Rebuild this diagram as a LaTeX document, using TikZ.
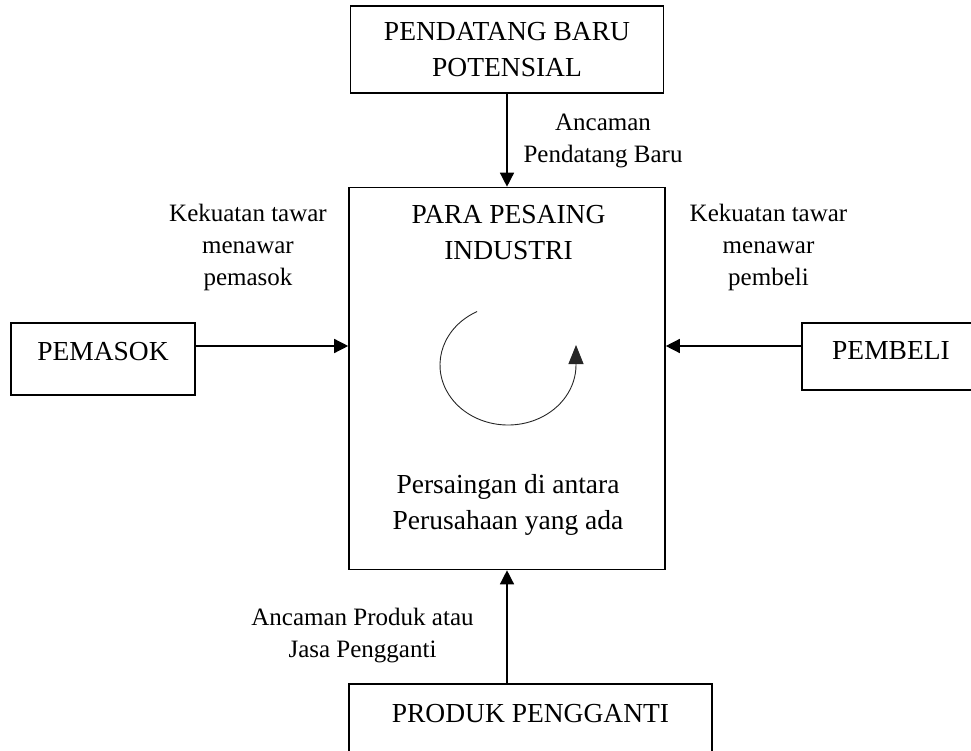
\documentclass[tikz,border=0pt]{standalone}
\usepackage{fontspec}
\setmainfont{Liberation Serif}
\usetikzlibrary{arrows.meta}

\begin{document}
\begin{tikzpicture}[x=1pt,y=-1pt]
% Styles
\tikzset{
    force/.style={draw, line width=1.6pt, inner sep=0pt, font=\fontsize{27.5}{36}\selectfont},
    title/.style={align=center, inner sep=0pt, font=\fontsize{27.5}{36}\selectfont},
    caption/.style={align=center, inner sep=0pt, font=\fontsize{25}{32}\selectfont},
    push/.style={line width=1.4pt, -{Triangle[length=14pt,width=14pt]}},
    cycle arrow/.style={line width=0.9pt, black!85, -{Triangle[length=19pt,width=15pt]}}
}
\useasboundingbox (0,0) rectangle (971,751);
\clip (0,0) rectangle (971,751);

% Nodes
\node[force, minimum width=313pt, minimum height=87pt, align=center] (entrant) at (507,49.5) {PENDATANG BARU\\POTENSIAL};
\node[force, minimum width=316pt, minimum height=382pt] (rivals) at (507,378.5) {};
\node[force, anchor=base, minimum width=184pt, text height=37pt, text depth=35pt] (supplier) at (103,360) {PEMASOK};
\node[force, anchor=base, minimum width=178pt, text height=36pt, text depth=31pt] (buyer) at (891,359) {PEMBELI};
\node[force, anchor=base, minimum width=363pt, text height=38pt, text depth=50pt] (subst) at (530.5,722) {PRODUK PENGGANTI\hspace{44pt}};

% Texts
\node[title] (rivalsTitle) at (508.5,232.5) {PARA PESAING\\INDUSTRI};
\node[title] (rivalsText) at (508,505) {Persaingan di antara\\Perusahaan yang ada};
\node[caption] (supplierLabel) at (248,247) {Kekuatan tawar\\menawar\\pemasok};
\node[caption] (buyerLabel) at (768.5,247) {Kekuatan tawar\\menawar\\pembeli};
\node[caption] (entrantLabel) at (603,141) {Ancaman\\Pendatang Baru};
\node[caption] (substLabel) at (362.5,636) {Ancaman Produk atau\\Jasa Pengganti};

% Connections
\coordinate (supplierOut) at ([yshift=13pt]supplier.east);
\coordinate (buyerOut) at ([yshift=10.5pt]buyer.west);
\draw[push] (entrant) -- (rivals);
\draw[push] (supplierOut) -- (supplierOut -| rivals.west);
\draw[push] (buyerOut) -- (buyerOut -| rivals.east);
\draw[push] (subst.north -| rivals.south) -- (rivals.south);

% Rivalry cycle
\coordinate (cycleCenter) at (508,365);
\draw[cycle arrow] (cycleCenter) ++(243:68 and 60) arc[start angle=243, end angle=0, x radius=68, y radius=60] -- ++(0,-20);
\end{tikzpicture}
\end{document}
